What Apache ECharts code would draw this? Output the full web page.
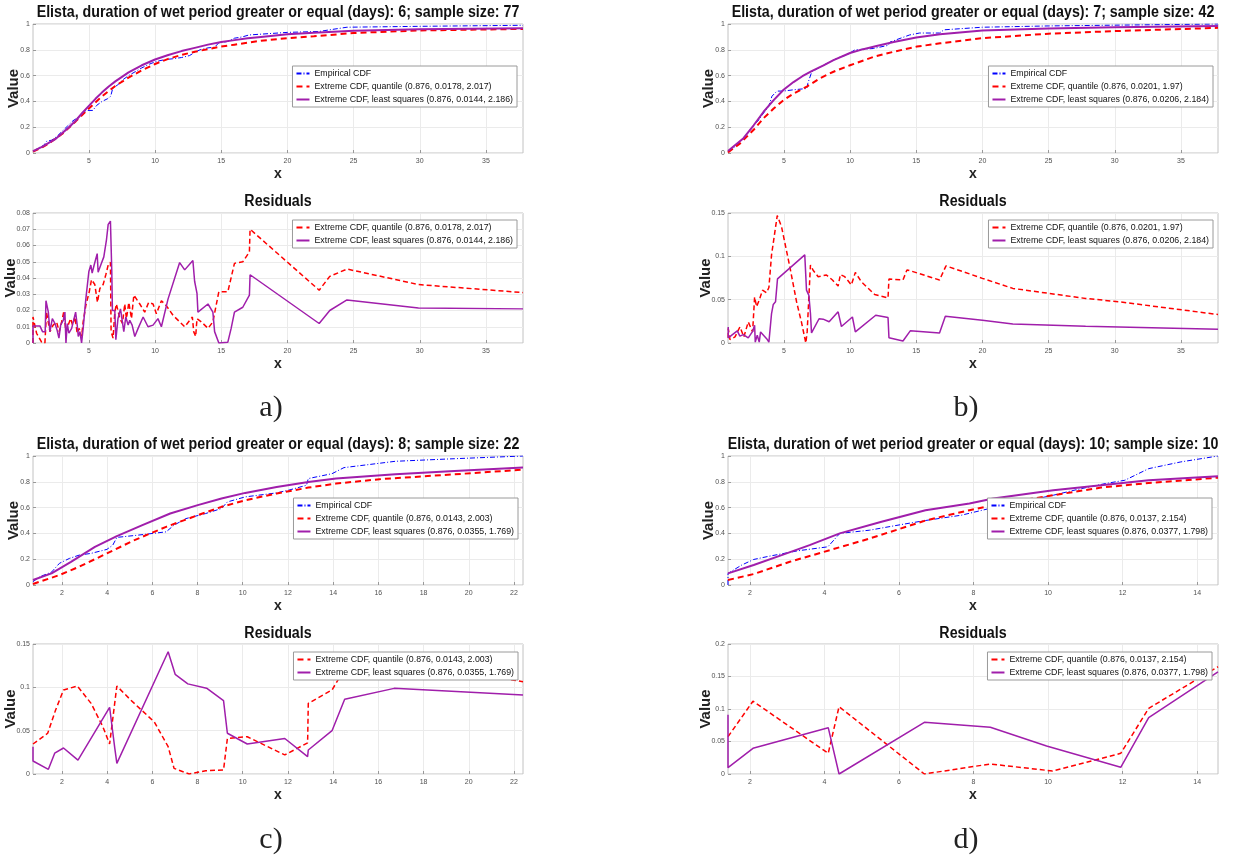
<!DOCTYPE html>
<html><head><meta charset="utf-8">
<script src="https://cdn.jsdelivr.net/npm/echarts@6/dist/echarts.min.js"></script>
<style>html,body{margin:0;padding:0;background:#fff}#c{width:1248px;height:861px}</style>
</head><body><div id="c"></div>
<script>
// ---------- DATA ----------
const xTicksAB = [5,10,15,20,25,30,35];
const xTicksC = [2,4,6,8,10,12,14,16,18,20,22];
const xTicksD = [2,4,6,8,10,12,14];

const nameEmp = 'Empirical CDF';
const nameAQ = 'Extreme CDF, quantile (0.876, 0.0178, 2.017)';
const nameALS = 'Extreme CDF, least squares (0.876, 0.0144, 2.186)';
const nameBQ = 'Extreme CDF, quantile (0.876, 0.0201, 1.97)';
const nameBLS = 'Extreme CDF, least squares (0.876, 0.0206, 2.184)';
const nameCQ = 'Extreme CDF, quantile (0.876, 0.0143, 2.003)';
const nameCLS = 'Extreme CDF, least squares (0.876, 0.0355, 1.769)';
const nameDQ = 'Extreme CDF, quantile (0.876, 0.0137, 2.154)';
const nameDLS = 'Extreme CDF, least squares (0.876, 0.0377, 1.798)';

const titleA = 'Elista, duration of wet period greater or equal (days): 6; sample size: 77';
const titleB = 'Elista, duration of wet period greater or equal (days): 7; sample size: 42';
const titleC = 'Elista, duration of wet period greater or equal (days): 8; sample size: 22';
const titleD = 'Elista, duration of wet period greater or equal (days): 10; sample size: 10';

// panel a
const aEmpX = [0.78,1.2,1.6,1.8,2.2,2.6,3.0,3.4,3.8,4.1,4.5,4.8,5.3,5.6,6.0,6.4,6.65,6.8,7.2,7.6,8.0,8.5,9.0,9.6,10.1,10.8,11.3,12.0,12.6,13.0,13.4,14.0,14.5,14.8,15.5,16.0,16.6,17.1,17.2,20.0,22.4,23.2,24.5,30.0,37.8];
const aEmpY = [0.01,0.04,0.06,0.09,0.10,0.13,0.17,0.21,0.25,0.27,0.31,0.33,0.33,0.37,0.40,0.42,0.44,0.50,0.53,0.57,0.60,0.63,0.66,0.69,0.71,0.725,0.73,0.74,0.755,0.78,0.80,0.815,0.82,0.852,0.865,0.89,0.90,0.915,0.93,0.935,0.942,0.955,0.975,0.982,0.99];
const aQX = [0.78,1.5,2,3,4,5,6,7,8,9,10,11,12,13,14,15,16,17,18,20,22,25,30,37.8];
const aQY = [0.01,0.045,0.075,0.15,0.245,0.345,0.44,0.52,0.585,0.64,0.69,0.73,0.76,0.785,0.805,0.825,0.84,0.855,0.87,0.89,0.905,0.93,0.95,0.962];
const aLSX = [0.78,1.5,2,2.5,3,3.5,4,4.5,5,5.5,6,6.5,7,7.5,8,9,10,11,12,13,14,15,16,17,18,20,22,25,30,37.8];
const aLSY = [0.015,0.05,0.08,0.11,0.155,0.2,0.25,0.31,0.365,0.42,0.47,0.515,0.555,0.59,0.625,0.68,0.725,0.76,0.79,0.815,0.84,0.86,0.875,0.89,0.9,0.92,0.932,0.948,0.96,0.968];
const aResQX = [0.78,0.78,1.05,1.43,1.68,1.8,2.06,2.3,2.56,2.76,2.94,3.1,3.27,3.44,3.62,3.77,3.95,4.12,4.27,4.45,4.57,4.77,5.03,5.2,5.45,5.65,5.83,6.08,6.28,6.46,6.63,6.68,6.83,6.96,7.08,7.34,7.54,7.71,7.84,8.02,8.22,8.4,8.85,9.22,9.52,9.85,10.1,10.48,10.85,11.36,12.24,12.82,12.92,13.07,13.17,13.5,14.0,14.37,14.82,15.5,16.0,16.63,17.13,17.18,22.4,23.2,24.5,29.9,37.8];
const aResQY = [0,0.016,0.006,0.0005,0,0.019,0.007,0.011,0.013,0.007,0.013,0.019,0.007,0.011,0.015,0.011,0.016,0.006,0.009,0.004,0.013,0.023,0.0315,0.039,0.036,0.025,0.0335,0.036,0.042,0.048,0.0497,0.007,0.003,0.019,0.024,0.015,0.012,0.024,0.015,0.025,0.015,0.0295,0.024,0.019,0.025,0.024,0.018,0.026,0.023,0.017,0.010,0.016,0.007,0.004,0.015,0.013,0.009,0.013,0.0315,0.0315,0.049,0.050,0.056,0.070,0.0325,0.041,0.0455,0.036,0.031];
const aResLSX = [0.78,0.78,1.3,1.5,1.7,1.76,1.94,2.06,2.24,2.44,2.6,2.74,2.87,3.07,3.19,3.27,3.37,3.49,3.7,3.82,4.0,4.12,4.2,4.32,4.45,4.57,4.77,5.0,5.15,5.25,5.4,5.63,5.7,5.9,6.13,6.33,6.46,6.63,6.73,6.78,6.96,7.04,7.2,7.39,7.54,7.64,7.79,7.97,8.09,8.27,8.47,8.72,9.1,9.47,9.85,10.22,10.48,10.98,11.86,12.24,12.86,12.99,13.17,13.24,14.0,14.37,14.5,14.82,15.5,15.75,16.0,16.63,17.13,17.18,22.4,23.2,24.5,29.9,37.8];
const aResLSY = [0,0.0105,0.0105,0.007,0.007,0.026,0.019,0.007,0.015,0.012,0.008,0.003,0.011,0.014,0.019,0,0.012,0.006,0.009,0.013,0.019,0.011,0.004,0.007,0,0.009,0.027,0.044,0.048,0.043,0.048,0.055,0.0435,0.048,0.053,0.0635,0.073,0.075,0.045,0.020,0.020,0.002,0.015,0.021,0.021,0.007,0.016,0.011,0.014,0.011,0.004,0.009,0.016,0.010,0.011,0.015,0.010,0.027,0.0495,0.045,0.0507,0.038,0.0305,0.019,0.024,0.019,0.007,0.0,0.0005,0.009,0.019,0.022,0.0295,0.042,0.012,0.020,0.0265,0.0215,0.021];

// panel b
const bEmpX = [0.78,1.33,1.83,2.34,2.72,3.1,3.47,3.85,4.1,4.48,4.98,5.73,6.74,6.81,7.11,7.99,8.75,9.25,9.75,10.38,11.76,12.9,13.02,14.5,15.25,16.76,17.1,20,25,37.8];
const bEmpY = [0.01,0.05,0.10,0.165,0.215,0.255,0.31,0.36,0.44,0.48,0.48,0.49,0.50,0.54,0.63,0.68,0.72,0.745,0.76,0.80,0.81,0.835,0.86,0.915,0.93,0.93,0.955,0.975,0.985,1.0];
const bQX = [0.78,1.7,2.72,3.47,4.23,4.98,5.73,6.74,7.74,8.75,10,11.76,13.3,15.05,16.8,20,25,30,37.8];
const bQY = [0.005,0.075,0.18,0.27,0.345,0.41,0.46,0.515,0.58,0.63,0.68,0.745,0.785,0.825,0.85,0.89,0.925,0.945,0.97];
const bLSX = [0.78,1.95,2.72,3.47,4.23,4.98,5.73,6.4,7.1,8.0,8.75,10.0,11.0,12.0,13.3,15.0,16.8,20,25,30,37.8];
const bLSY = [0.015,0.115,0.215,0.32,0.41,0.49,0.55,0.595,0.635,0.68,0.72,0.775,0.805,0.83,0.86,0.895,0.92,0.95,0.965,0.975,0.985];
const bResQX = [0.8,0.8,0.93,1.31,1.68,1.98,2.31,2.64,2.79,2.94,3.14,3.39,3.69,3.87,4.07,4.5,4.82,5.45,5.96,6.33,6.66,6.76,7.01,7.21,7.59,8.22,8.67,9.1,9.27,9.6,10.1,10.4,10.85,11.86,12.87,12.94,14.0,14.3,14.62,16.76,17.25,20,22.3,27.8,30.3,37.8];
const bResQY = [0.006,0.0166,0.004,0.007,0.0186,0.007,0.0243,0.0128,0.053,0.042,0.0495,0.061,0.058,0.064,0.1017,0.147,0.1345,0.088,0.0476,0.024,0.0,0.0128,0.090,0.084,0.0765,0.0785,0.0727,0.0657,0.079,0.0765,0.067,0.0815,0.0707,0.056,0.052,0.0738,0.0727,0.0843,0.083,0.0727,0.089,0.0746,0.063,0.0514,0.0476,0.0329];
const bResLSX = [0.8,0.8,0.93,1.48,1.68,1.94,2.31,2.64,2.79,2.84,2.99,3.14,3.24,3.39,3.7,3.87,4.02,4.07,4.2,4.37,4.52,6.58,6.71,6.89,7.01,7.09,7.66,7.97,8.42,9.1,9.35,10.18,10.4,11.94,12.87,12.94,14.0,14.55,16.76,17.2,20.0,22.3,27.8,37.8];
const bResLSY = [0.0185,0.006,0.006,0.014,0.008,0.0097,0.006,0.0135,0.0205,0.001,0.009,0.001,0.0128,0.012,0.005,0.001,0.0,0.034,0.0445,0.0475,0.074,0.1017,0.061,0.055,0.034,0.0116,0.028,0.0275,0.0245,0.036,0.019,0.030,0.0128,0.032,0.0295,0.006,0.0023,0.014,0.0116,0.031,0.0263,0.022,0.0193,0.0158];

// panel c
const cEmpX = [0.72,1.02,1.54,1.89,2.33,2.77,3.29,3.99,4.25,4.43,5.39,6.61,6.96,7.49,8.36,9.06,9.32,10.11,11.5,12.03,12.82,12.9,13.95,14.48,15.88,16.75,19.37,22.4];
const cEmpY = [0.026,0.064,0.10,0.168,0.206,0.232,0.245,0.276,0.309,0.369,0.387,0.412,0.464,0.515,0.554,0.593,0.644,0.683,0.714,0.735,0.773,0.825,0.863,0.91,0.94,0.959,0.979,1.0];
const cQX = [0.72,1.89,2.77,3.99,5.21,6.61,8.01,9.06,10.11,11.5,12.9,14.13,16.05,19.37,22.4];
const cQY = [0.008,0.077,0.142,0.245,0.348,0.451,0.541,0.606,0.657,0.709,0.755,0.786,0.82,0.858,0.894];
const cLSX = [0.72,1.54,2.4,3.46,4.43,5.56,6.79,8.01,9.06,10.11,11.5,12.9,14.13,16.75,19.37,22.4];
const cLSY = [0.039,0.09,0.18,0.296,0.379,0.464,0.554,0.619,0.67,0.714,0.76,0.799,0.825,0.858,0.884,0.91];
const cResQX = [0.72,1.37,1.72,2.07,2.68,3.29,3.81,4.11,4.43,5.04,6.09,6.7,6.96,7.63,8.36,9.15,9.32,10.2,11.86,12.87,12.9,13.95,14.48,16.7,22.4];
const cResQY = [0.0346,0.047,0.0738,0.097,0.1015,0.0815,0.0546,0.0346,0.1015,0.0854,0.060,0.0315,0.0065,0.0,0.0038,0.0046,0.041,0.043,0.022,0.036,0.0815,0.097,0.12,0.13,0.1065];
const cResLSX = [0.72,0.72,1.4,1.68,2.07,2.71,4.11,4.34,4.43,6.7,7.01,7.57,8.4,9.15,9.32,10.2,11.86,12.87,12.9,13.95,14.51,16.7,22.4];
const cResLSY = [0.0315,0.015,0.0054,0.024,0.030,0.016,0.077,0.0296,0.0123,0.141,0.115,0.104,0.099,0.0846,0.047,0.0346,0.041,0.020,0.0277,0.050,0.0862,0.0988,0.0912];

// panel d
const dEmpX = [1.41,1.41,1.78,2.1,2.53,3.28,4.09,4.41,5.21,6.07,6.71,7.67,8.53,9.28,10.14,10.78,11.53,12.06,12.7,13.56,14.56];
const dEmpY = [0.0,0.09,0.155,0.198,0.224,0.265,0.296,0.40,0.425,0.469,0.50,0.541,0.60,0.644,0.696,0.74,0.786,0.812,0.902,0.954,1.0];
const dQX = [1.41,2.1,3.07,4.14,5.21,6.71,7.89,8.53,10.14,11.42,12.7,14.56];
const dQY = [0.039,0.085,0.18,0.27,0.36,0.50,0.58,0.619,0.696,0.755,0.791,0.832];
const dLSX = [1.41,2.1,2.85,3.6,4.41,5.53,6.71,7.89,8.53,10.14,11.42,12.7,14.56];
const dLSY = [0.09,0.155,0.232,0.309,0.40,0.49,0.58,0.631,0.67,0.735,0.773,0.812,0.843];
const dResQX = [1.41,2.08,4.1,4.39,6.68,8.45,10.12,11.95,12.7,14.56];
const dResQY = [0.0574,0.112,0.0318,0.1036,0.0,0.0154,0.0046,0.0318,0.101,0.165];
const dResLSX = [1.41,1.41,2.08,4.1,4.39,6.68,8.45,9.96,11.95,12.7,14.56];
const dResLSY = [0.091,0.0097,0.0395,0.0713,0.0,0.0795,0.0718,0.043,0.0103,0.0867,0.157];

// ---------- STYLE / LAYOUT ----------
const SANS = "'Liberation Sans', Arial, Helvetica, sans-serif";
const BLUE = '#0000ff', RED = '#ff0000', PURPLE = '#a01eab';

const panels = [
  {grid:{left:33, top:24, width:490, height:129}, xr:[0.78,37.8], xt:xTicksAB, ymax:1, yi:0.2, vg:12},
  {grid:{left:33, top:213, width:490, height:130}, xr:[0.78,37.8], xt:xTicksAB, ymax:0.08, yi:0.01, vg:15},
  {grid:{left:728, top:24, width:490, height:129}, xr:[0.78,37.8], xt:xTicksAB, ymax:1, yi:0.2, vg:12},
  {grid:{left:728, top:213, width:490, height:130}, xr:[0.78,37.8], xt:xTicksAB, ymax:0.15, yi:0.05, vg:15},
  {grid:{left:33, top:456, width:490, height:129}, xr:[0.72,22.4], xt:xTicksC, ymax:1, yi:0.2, vg:12},
  {grid:{left:33, top:644, width:490, height:130}, xr:[0.72,22.4], xt:xTicksC, ymax:0.15, yi:0.05, vg:15},
  {grid:{left:728, top:456, width:490, height:129}, xr:[1.41,14.56], xt:xTicksD, ymax:1, yi:0.2, vg:12},
  {grid:{left:728, top:644, width:490, height:130}, xr:[1.41,14.56], xt:xTicksD, ymax:0.2, yi:0.05, vg:15}
];

const grids = panels.map(p => Object.assign({show:true, borderColor:'#c2c2c2', borderWidth:1, backgroundColor:'#fff'}, p.grid));
const splitLine = {show:true, lineStyle:{color:'#ebebeb', width:1}};
const tickLbl = {fontSize:7, fontFamily:SANS, color:'#505050'};
const xAxes = panels.map((p,i) => ({
  gridIndex:i, type:'value', min:p.xr[0], max:p.xr[1],
  name:'x', nameLocation:'middle', nameGap:14, nameMoveOverlap:false,
  nameTextStyle:{fontFamily:SANS, fontWeight:'bold', fontSize:14, color:'#222'},
  axisLine:{show:false},
  axisTick:{show:true, inside:true, length:3, customValues:p.xt, lineStyle:{color:'#999'}},
  axisLabel:Object.assign({customValues:p.xt, margin:5}, tickLbl),
  splitLine
}));
const yAxes = panels.map((p,i) => ({
  gridIndex:i, type:'value', min:0, max:p.ymax, interval:p.yi,
  name:'Value', nameLocation:'middle', nameGap:p.vg, nameMoveOverlap:false,
  nameTextStyle:{fontFamily:SANS, fontWeight:'bold', fontSize:15, color:'#222'},
  axisLine:{show:false},
  axisTick:{show:true, inside:true, length:3, lineStyle:{color:'#999'}},
  axisLabel:Object.assign({margin:3, formatter:v => String(+v.toFixed(3))}, tickLbl),
  splitLine
}));

function pts(xs, ys){ return xs.map((x,k)=>[x, ys[k]]); }
function ln(name, xs, ys, gi, color, width, type){
  return {type:'line', name, xAxisIndex:gi, yAxisIndex:gi, data:pts(xs,ys),
    symbol:'none', showSymbol:false, animation:false, clip:true,
    lineStyle:{color, width, type}, itemStyle:{color}};
}
const DASHDOT = [5,2,1,2], DASH = [6,4], DASH2 = [5,3];
const series = [
  ln(nameEmp, aEmpX, aEmpY, 0, BLUE, 1, DASHDOT),
  ln(nameAQ, aQX, aQY, 0, RED, 2, DASH),
  ln(nameALS, aLSX, aLSY, 0, PURPLE, 2, 'solid'),
  ln(nameAQ, aResQX, aResQY, 1, RED, 1.5, DASH2),
  ln(nameALS, aResLSX, aResLSY, 1, PURPLE, 1.5, 'solid'),
  ln(nameEmp, bEmpX, bEmpY, 2, BLUE, 1, DASHDOT),
  ln(nameBQ, bQX, bQY, 2, RED, 2, DASH),
  ln(nameBLS, bLSX, bLSY, 2, PURPLE, 2, 'solid'),
  ln(nameBQ, bResQX, bResQY, 3, RED, 1.5, DASH2),
  ln(nameBLS, bResLSX, bResLSY, 3, PURPLE, 1.5, 'solid'),
  ln(nameEmp, cEmpX, cEmpY, 4, BLUE, 1, DASHDOT),
  ln(nameCQ, cQX, cQY, 4, RED, 2, DASH),
  ln(nameCLS, cLSX, cLSY, 4, PURPLE, 2, 'solid'),
  ln(nameCQ, cResQX, cResQY, 5, RED, 1.5, DASH2),
  ln(nameCLS, cResLSX, cResLSY, 5, PURPLE, 1.5, 'solid'),
  ln(nameEmp, dEmpX, dEmpY, 6, BLUE, 1, DASHDOT),
  ln(nameDQ, dQX, dQY, 6, RED, 2, DASH),
  ln(nameDLS, dLSX, dLSY, 6, PURPLE, 2, 'solid'),
  ln(nameDQ, dResQX, dResQY, 7, RED, 1.5, DASH2),
  ln(nameDLS, dResLSX, dResLSY, 7, PURPLE, 1.5, 'solid')
];

function leg(names, right, top){
  return {data:names, orient:'vertical', right, top, itemWidth:13, itemHeight:8, itemGap:4,
    padding:[3,4,3,3], borderColor:'#9a9a9a', borderWidth:1, borderRadius:0, backgroundColor:'#fff',
    itemStyle:{opacity:0}, selectedMode:false,
    textStyle:{fontFamily:SANS, fontSize:8.8, color:'#111'}};
}
const legends = [
  leg([nameEmp, nameAQ, nameALS], 731, 66),
  leg([nameAQ, nameALS], 731, 220),
  leg([nameEmp, nameBQ, nameBLS], 35, 66),
  leg([nameBQ, nameBLS], 35, 220),
  leg([nameEmp, nameCQ, nameCLS], 730, 498),
  leg([nameCQ, nameCLS], 730, 652),
  leg([nameEmp, nameDQ, nameDLS], 36, 498),
  leg([nameDQ, nameDLS], 36, 652)
];

function ttl(text, x, y){
  return {type:'text', x, y, scaleX:0.89, z:10,
    style:{text, font:"bold 16px 'Liberation Sans', Arial, sans-serif", align:'center', verticalAlign:'middle', fill:'#111'}};
}
function lab(text, x, y){
  return {type:'text', x, y, z:10,
    style:{text, font:"30px 'Liberation Serif', serif", align:'center', verticalAlign:'middle', fill:'#222'}};
}
const graphic = [
  ttl(titleA, 278, 13), ttl('Residuals', 278, 202),
  ttl(titleB, 973, 13), ttl('Residuals', 973, 202),
  ttl(titleC, 278, 445), ttl('Residuals', 278, 634),
  ttl(titleD, 973, 445), ttl('Residuals', 973, 634),
  lab('a)', 271, 408), lab('b)', 966, 408), lab('c)', 271, 840), lab('d)', 966, 840)
];

const chart = echarts.init(document.getElementById('c'), null, {renderer:'canvas'});
chart.setOption({
  animation:false, backgroundColor:'#fff',
  grid:grids, xAxis:xAxes, yAxis:yAxes, legend:legends, series, graphic
});
</script></body></html>
